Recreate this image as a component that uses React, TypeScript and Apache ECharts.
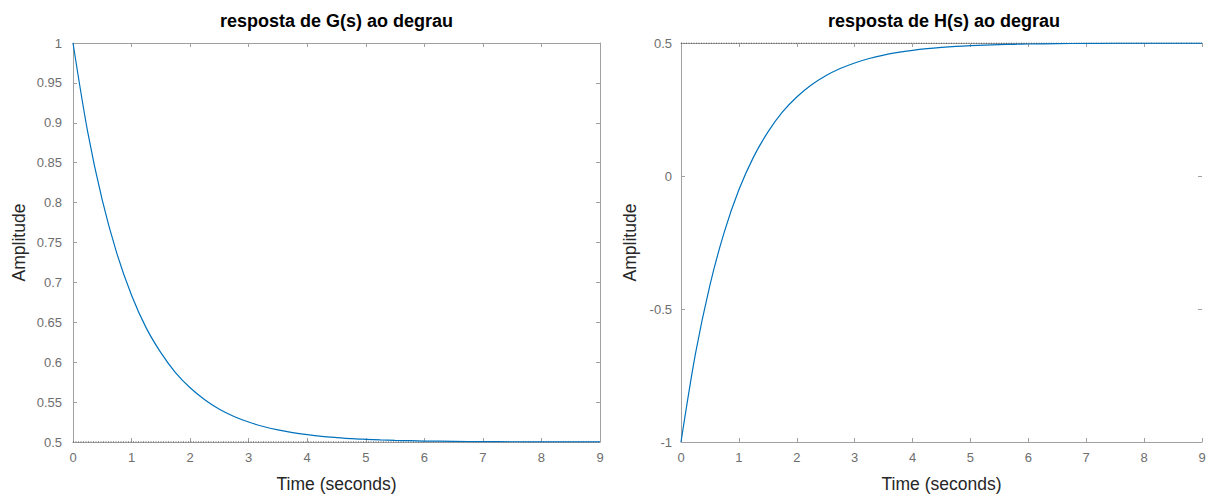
import React, { useEffect, useRef } from "react";
import * as echarts from "echarts";

const titles = ["resposta de G(s) ao degrau", "resposta de H(s) ao degrau"];
const xName = "Time (seconds)";
const yName = "Amplitude";

const timeS = [0, 0.25, 0.5, 0.75, 1, 1.25, 1.5, 1.75, 2, 2.25, 2.5, 2.75, 3, 3.25, 3.5, 3.75, 4, 4.25, 4.5, 4.75, 5, 5.25, 5.5, 5.75, 6, 6.5, 7, 7.5, 8, 8.5, 9];
const gValues = [1.0, 0.889, 0.803, 0.736, 0.684, 0.643, 0.612, 0.587, 0.568, 0.553, 0.541, 0.532, 0.525, 0.5194, 0.5151, 0.5118, 0.5092, 0.5071, 0.5056, 0.5043, 0.5034, 0.5026, 0.502, 0.5016, 0.5012, 0.5008, 0.5005, 0.5003, 0.5002, 0.5001, 0.5001];
const hValues = [-1.0, -0.668, -0.41, -0.209, -0.052, 0.07, 0.165, 0.24, 0.297, 0.342, 0.377, 0.404, 0.425, 0.4418, 0.4547, 0.4647, 0.4725, 0.4786, 0.4833, 0.487, 0.4899, 0.4921, 0.4939, 0.4952, 0.4963, 0.4977, 0.4986, 0.4992, 0.4995, 0.4997, 0.4998];
const steadyG = 0.5;
const steadyH = 0.5;
const xRange = [0, 9];
const gRange = [0.5, 1, 0.05];
const hRange = [-1, 0.5, 0.5];

const FONT = "'Liberation Sans', Arial, Helvetica, sans-serif";
const AXIS_COLOR = "#a0a0a0";
const TICK_LABEL = "#6e6e6e";
const LABEL_COLOR = "#262626";
const LINE_BLUE = "#0072BD";

export default function App() {
  const ref = useRef<HTMLDivElement>(null);
  useEffect(() => {
    document.body.style.margin = "0";
    document.body.style.overflow = "hidden";
    document.documentElement.style.overflow = "hidden";
    if (!ref.current) return;
    const chart = echarts.init(ref.current, undefined, { renderer: "svg" });

    const grids = [
      { left: 73, top: 43, width: 527, height: 402 },
      { left: 681, top: 43, width: 521, height: 403 },
    ];

    const mkX = (gi: number, bottom: boolean, nameGap: number) => ({
      type: "value",
      gridIndex: gi,
      position: bottom ? "bottom" : "top",
      min: xRange[0],
      max: xRange[1],
      interval: 1,
      name: bottom ? xName : "",
      nameLocation: "middle",
      nameGap,
      nameTextStyle: { fontFamily: FONT, fontSize: 17.5, color: LABEL_COLOR },
      axisLine: { show: true, onZero: false, lineStyle: { color: AXIS_COLOR, width: 1 } },
      axisTick: { show: true, inside: true, length: 4, lineStyle: { color: AXIS_COLOR } },
      axisLabel: { show: bottom, margin: 9, fontFamily: FONT, fontSize: 13, color: TICK_LABEL },
      splitLine: { show: false },
    });

    const mkY = (gi: number, left: boolean, r: number[], nameGap: number, margin: number, showLine = true) => ({
      type: "value",
      gridIndex: gi,
      position: left ? "left" : "right",
      min: r[0],
      max: r[1],
      interval: r[2],
      name: left ? yName : "",
      nameLocation: "middle",
      nameGap,
      nameTextStyle: { fontFamily: FONT, fontSize: 17.5, color: LABEL_COLOR },
      axisLine: { show: showLine, onZero: false, lineStyle: { color: AXIS_COLOR, width: 1 } },
      axisTick: { show: true, inside: true, length: 4, lineStyle: { color: AXIS_COLOR } },
      axisLabel: { show: left, margin, fontFamily: FONT, fontSize: 13, color: TICK_LABEL },
      splitLine: { show: false },
    });

    const gData = timeS.map((t, i) => [t, gValues[i]]);
    const hData = timeS.map((t, i) => [t, hValues[i]]);

    chart.setOption({
      animation: false,
      backgroundColor: "#ffffff",
      title: [
        {
          text: titles[0],
          left: 336.5,
          top: 12,
          textAlign: "center",
          padding: 0,
          textStyle: { fontFamily: FONT, fontSize: 18, fontWeight: "bold", color: "#000" },
        },
        {
          text: titles[1],
          left: 944,
          top: 12,
          textAlign: "center",
          padding: 0,
          textStyle: { fontFamily: FONT, fontSize: 18, fontWeight: "bold", color: "#000" },
        },
      ],
      grid: grids,
      xAxis: [mkX(0, true, 33), mkX(0, false, 0), mkX(1, true, 33), mkX(1, false, 0)],
      yAxis: [
        mkY(0, true, gRange, 45, 11),
        mkY(0, false, gRange, 0, 0),
        mkY(1, true, hRange, 42, 9),
        mkY(1, false, hRange, 0, 0, false),
      ],
      series: [
        {
          type: "line",
          xAxisIndex: 0,
          yAxisIndex: 0,
          data: [[xRange[0], steadyG], [xRange[1], steadyG]],
          symbol: "none",
          lineStyle: { color: "#333", width: 1, type: [1, 1.5] },
          z: 3,
        },
        {
          type: "line",
          xAxisIndex: 0,
          yAxisIndex: 0,
          data: gData,
          smooth: 0.3,
          symbol: "none",
          lineStyle: { color: LINE_BLUE, width: 1.2 },
          z: 4,
        },
        {
          type: "line",
          xAxisIndex: 2,
          yAxisIndex: 2,
          data: [[xRange[0], steadyH], [xRange[1], steadyH]],
          symbol: "none",
          lineStyle: { color: "#333", width: 1, type: [1, 1.5] },
          z: 3,
        },
        {
          type: "line",
          xAxisIndex: 2,
          yAxisIndex: 2,
          data: hData,
          smooth: 0.3,
          symbol: "none",
          lineStyle: { color: LINE_BLUE, width: 1.2 },
          z: 4,
        },
      ],
    });
    return () => chart.dispose();
  }, []);
  return <div ref={ref} style={{ width: 1230, height: 498 }} />;
}
